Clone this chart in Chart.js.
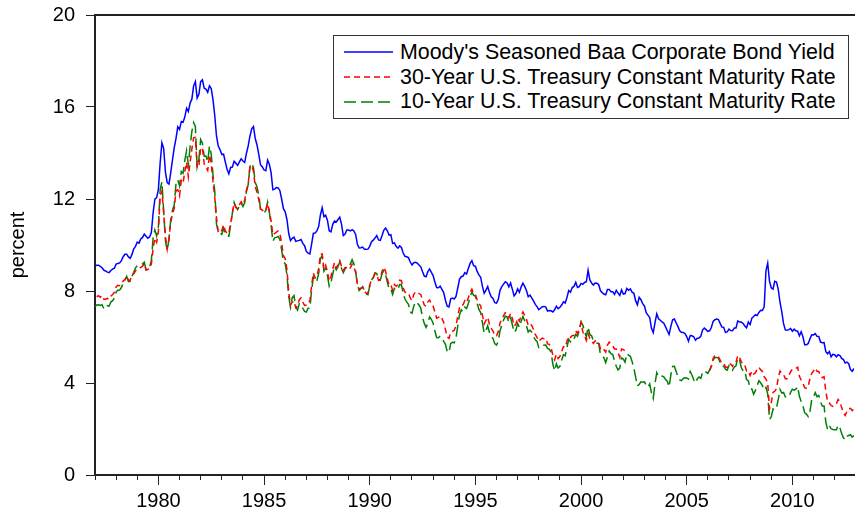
<!DOCTYPE html>
<html>
<head>
<meta charset="utf-8">
<script src="https://cdn.jsdelivr.net/npm/chart.js@4.4.0/dist/chart.umd.min.js"></script>
<style>
    body { margin: 0; background: #fff; }
    #wrap { position: relative; width: 855px; height: 512px; }
    #legend {
        position: absolute; left: 333px; top: 35px; width: 514px;
        border: 1px solid #333; background: #fff; padding: 4px 0;
        font-family: "Liberation Sans", Arial, sans-serif; font-size: 21.4px; color: #000;
    }
    .row { height: 24.7px; display: flex; align-items: center; white-space: nowrap; }
    .row svg { margin-left: 10px; margin-right: 7px; flex: none; }
</style>
</head>
<body>
<div id="wrap">
    <canvas id="mainChart" width="855" height="512"></canvas>
    <div id="legend"></div>
</div>
<script>
// Monthly data, Jan 1977 .. Dec 2012 (percent)
const N = null;
const startYear = 1977;

const baaYield = [
    9.08, 9.12, 9.12, 9.07, 9.01, 8.91, 8.87, 8.82, 8.80, 8.89, 8.95, 8.99,
    9.17, 9.20, 9.22, 9.32, 9.49, 9.60, 9.60, 9.48, 9.42, 9.59, 9.83, 9.94,
    10.13, 10.08, 10.26, 10.33, 10.47, 10.38, 10.29, 10.35, 10.54, 11.40, 11.99, 12.06,
    12.42, 13.57, 14.45, 14.19, 13.17, 12.71, 12.65, 13.15, 13.70, 14.23, 14.64, 15.14,
    15.03, 15.37, 15.34, 15.56, 15.95, 15.80, 16.17, 16.34, 16.92, 17.11, 16.39, 16.55,
    17.10, 17.18, 16.82, 16.78, 16.64, 16.92, 16.80, 16.32, 15.63, 14.73, 14.30, 14.14,
    13.94, 13.95, 13.61, 13.29, 13.09, 13.37, 13.39, 13.64, 13.55, 13.46, 13.61, 13.75,
    13.65, 13.59, 13.99, 14.31, 14.74, 15.05, 15.15, 14.63, 14.35, 13.94, 13.48, 13.40,
    13.26, 13.23, 13.69, 13.51, 13.15, 12.40, 12.43, 12.50, 12.48, 12.36, 11.99, 11.58,
    11.44, 11.11, 10.50, 10.19, 10.29, 10.34, 10.16, 10.18, 10.20, 10.24, 10.07, 9.97,
    9.72, 9.65, 9.61, 10.04, 10.51, 10.52, 10.61, 10.80, 11.31, 11.62, 11.23, 11.29,
    11.07, 10.62, 10.57, 10.90, 11.04, 11.00, 11.11, 11.21, 10.90, 10.41, 10.48, 10.65,
    10.65, 10.61, 10.67, 10.61, 10.46, 10.03, 9.87, 9.88, 9.91, 9.81, 9.81, 9.82,
    9.94, 10.14, 10.21, 10.30, 10.41, 10.22, 10.20, 10.41, 10.64, 10.74, 10.62, 10.43,
    10.45, 10.07, 10.09, 9.94, 9.86, 9.96, 9.89, 9.65, 9.51, 9.49, 9.45, 9.26,
    9.13, 9.23, 9.25, 9.21, 9.13, 9.05, 8.84, 8.65, 8.62, 8.84, 8.96, 8.81,
    8.67, 8.39, 8.15, 8.14, 8.21, 8.07, 7.93, 7.60, 7.34, 7.31, 7.66, 7.69,
    7.65, 7.76, 8.13, 8.52, 8.62, 8.65, 8.80, 8.74, 8.98, 9.20, 9.32, 9.10,
    9.08, 8.85, 8.70, 8.60, 8.20, 7.90, 8.04, 8.19, 7.93, 7.75, 7.68, 7.49,
    7.47, 7.63, 8.03, 8.19, 8.30, 8.40, 8.35, 8.18, 8.35, 8.07, 7.79, 7.89,
    8.09, 7.94, 8.18, 8.34, 8.20, 8.02, 7.75, 7.82, 7.70, 7.57, 7.42, 7.32,
    7.19, 7.25, 7.32, 7.33, 7.30, 7.13, 7.15, 7.14, 7.09, 7.18, 7.34, 7.23,
    7.29, 7.39, 7.53, 7.48, 7.72, 8.02, 7.95, 8.15, 8.20, 8.38, 8.15, 8.19,
    8.33, 8.29, 8.37, 8.40, 8.90, 8.48, 8.35, 8.26, 8.35, 8.34, 8.28, 8.02,
    7.93, 7.87, 7.84, 8.07, 8.07, 7.97, 7.97, 7.85, 8.03, 7.91, 7.81, 8.05,
    7.87, 7.89, 8.11, 8.03, 8.09, 7.95, 7.90, 7.58, 7.40, 7.73, 7.62, 7.45,
    7.35, 7.06, 6.95, 6.85, 6.38, 6.19, 6.62, 7.01, 6.79, 6.73, 6.66, 6.60,
    6.44, 6.27, 6.11, 6.46, 6.75, 6.78, 6.62, 6.46, 6.27, 6.21, 6.20, 6.15,
    6.02, 5.82, 6.06, 6.05, 6.01, 5.86, 5.95, 5.96, 6.03, 6.30, 6.39, 6.32,
    6.24, 6.27, 6.41, 6.68, 6.75, 6.78, 6.76, 6.59, 6.43, 6.42, 6.20, 6.22,
    6.34, 6.28, 6.27, 6.39, 6.39, 6.70, 6.65, 6.65, 6.59, 6.48, 6.40, 6.65,
    6.54, 6.82, 6.89, 6.97, 6.93, 7.07, 7.16, 7.15, 7.31, 8.88, 9.21, 8.43,
    8.14, 8.08, 8.42, 8.39, 8.06, 7.50, 7.09, 6.58, 6.31, 6.29, 6.32, 6.37,
    6.25, 6.34, 6.27, 6.25, 6.05, 6.23, 6.01, 5.66, 5.66, 5.72, 5.92, 6.10,
    6.09, 6.15, 6.03, 6.02, 5.78, 5.75, 5.76, 5.36, 5.27, 5.37, 5.14, 5.25,
    5.23, 5.14, 5.23, 5.19, 5.07, 5.02, 4.87, 4.91, 4.84, 4.58, 4.51, 4.63
];

const treasury30 = [
    N, 7.75, 7.80, 7.73, 7.80, 7.64, 7.64, 7.68, 7.64, 7.77, 7.85, 7.94,
    8.18, 8.25, 8.23, 8.34, 8.43, 8.50, 8.65, 8.47, 8.47, 8.69, 8.75, 8.88,
    8.94, 8.96, 9.03, 9.08, 9.19, 8.92, 8.93, 8.98, 9.17, 9.85, 10.30, 10.12,
    10.60, 12.13, 12.34, 11.40, 10.36, 9.81, 10.24, 11.00, 11.34, 11.59, 12.37, 12.40,
    12.14, 12.80, 12.69, 13.20, 13.60, 12.96, 13.59, 14.17, 14.67, 14.68, 13.35, 13.45,
    14.22, 14.22, 13.53, 13.37, 13.24, 13.92, 13.55, 12.77, 12.07, 11.17, 10.54, 10.54,
    10.63, 10.88, 10.63, 10.48, 10.53, 10.93, 11.40, 11.82, 11.63, 11.58, 11.75, 11.88,
    11.75, 11.95, 12.38, 12.65, 13.43, 13.44, 13.21, 12.54, 12.29, 11.98, 11.56, 11.52,
    11.45, 11.47, 11.81, 11.47, 11.05, 10.44, 10.50, 10.56, 10.61, 10.50, 10.06, 9.54,
    9.40, 8.93, 7.96, 7.39, 7.52, 7.57, 7.27, 7.33, 7.62, 7.70, 7.52, 7.37,
    7.39, 7.54, 7.55, 8.25, 8.78, 8.57, 8.64, 8.97, 9.59, 9.61, 8.95, 9.12,
    8.83, 8.43, 8.63, 8.95, 9.23, 9.00, 9.14, 9.32, 9.06, 8.89, 9.02, 9.01,
    8.93, 9.01, 9.17, 9.03, 8.83, 8.27, 8.08, 8.12, 8.15, 8.00, 7.90, 7.90,
    8.26, 8.50, 8.56, 8.76, 8.73, 8.46, 8.50, 8.86, 9.03, 8.86, 8.54, 8.24,
    8.27, 8.03, 8.29, 8.21, 8.27, 8.47, 8.45, 8.14, 7.95, 7.93, 7.92, 7.70,
    7.58, 7.85, 7.97, 7.96, 7.89, 7.84, 7.60, 7.39, 7.34, 7.53, 7.61, 7.44,
    7.34, 7.09, 6.82, 6.85, 6.92, 6.81, 6.63, 6.32, 6.00, 5.94, 6.21, 6.25,
    6.29, 6.49, 6.91, 7.27, 7.41, 7.40, 7.58, 7.49, 7.71, 7.94, 8.08, 7.87,
    7.85, 7.61, 7.45, 7.36, 6.95, 6.57, 6.72, 6.86, 6.55, 6.37, 6.26, 6.06,
    6.05, 6.24, 6.60, 6.79, 6.93, 7.06, 7.03, 6.84, 7.03, 6.81, 6.48, 6.55,
    6.83, 6.69, 6.93, 7.09, 6.94, 6.77, 6.51, 6.58, 6.50, 6.33, 6.11, 5.99,
    5.81, 5.89, 5.95, 5.92, 5.93, 5.70, 5.68, 5.54, 5.20, 5.01, 5.25, 5.06,
    5.16, 5.37, 5.58, 5.55, 5.81, 6.04, 5.98, 6.07, 6.07, 6.26, 6.15, 6.35,
    6.63, 6.23, 6.05, 5.85, 6.15, 5.93, 5.85, 5.72, 5.83, 5.80, 5.78, 5.49,
    5.54, 5.45, 5.34, 5.65, 5.78, 5.67, 5.61, 5.48, 5.48, 5.32, 5.12, 5.48,
    5.45, 5.40, N, N, N, N, N, N, N, N, N, N,
    N, N, N, N, N, N, N, N, N, N, N, N,
    N, N, N, N, N, N, N, N, N, N, N, N,
    N, N, N, N, N, N, N, N, N, N, N, N,
    N, 4.54, 4.73, 5.06, 5.20, 5.15, 5.13, 5.00, 4.85, 4.85, 4.69, 4.68,
    4.85, 4.82, 4.72, 4.87, 4.90, 5.20, 5.11, 4.93, 4.79, 4.77, 4.52, 4.53,
    4.33, 4.52, 4.39, 4.44, 4.60, 4.69, 4.57, 4.50, 4.27, 4.17, 4.00, 2.87,
    3.13, 3.59, 3.64, 3.76, 4.23, 4.52, 4.41, 4.37, 4.19, 4.19, 4.31, 4.49,
    4.60, 4.62, 4.64, 4.69, 4.29, 4.13, 3.99, 3.80, 3.77, 3.87, 4.19, 4.42,
    4.52, 4.65, 4.51, 4.50, 4.29, 4.23, 4.27, 3.65, 3.18, 3.13, 3.02, 2.98,
    3.03, 3.11, 3.28, 3.18, 2.93, 2.70, 2.59, 2.77, 2.88, 2.90, 2.80, 2.88
];

const treasury10 = [
    7.32, 7.39, 7.40, 7.37, 7.40, 7.24, 7.22, 7.36, 7.34, 7.52, 7.58, 7.69,
    7.96, 8.03, 8.04, 8.15, 8.35, 8.46, 8.64, 8.41, 8.42, 8.64, 8.81, 9.01,
    9.10, 9.10, 9.12, 9.18, 9.25, 8.91, 8.95, 9.03, 9.33, 10.30, 10.65, 10.39,
    10.80, 12.41, 12.75, 11.47, 10.18, 9.78, 10.25, 11.10, 11.51, 11.75, 12.68, 12.84,
    12.57, 13.19, 13.12, 13.68, 14.10, 13.47, 14.28, 14.94, 15.32, 15.15, 13.39, 13.72,
    14.59, 14.43, 13.86, 13.87, 13.62, 14.30, 13.95, 13.06, 12.34, 10.91, 10.55, 10.54,
    10.46, 10.72, 10.51, 10.40, 10.38, 10.85, 11.38, 11.85, 11.65, 11.54, 11.69, 11.83,
    11.67, 11.84, 12.32, 12.63, 13.41, 13.56, 13.36, 12.72, 12.52, 12.16, 11.57, 11.50,
    11.38, 11.51, 11.86, 11.43, 10.85, 10.16, 10.31, 10.33, 10.37, 10.24, 9.78, 9.26,
    9.19, 8.70, 7.78, 7.30, 7.71, 7.80, 7.30, 7.17, 7.45, 7.43, 7.25, 7.11,
    7.08, 7.25, 7.25, 8.02, 8.61, 8.40, 8.45, 8.76, 9.42, 9.52, 8.86, 8.99,
    8.67, 8.21, 8.37, 8.72, 9.09, 8.92, 9.06, 9.26, 8.98, 8.80, 8.96, 9.11,
    9.09, 9.17, 9.36, 9.18, 8.86, 8.28, 8.02, 8.11, 8.19, 8.01, 7.87, 7.84,
    8.21, 8.47, 8.59, 8.79, 8.76, 8.48, 8.47, 8.75, 8.89, 8.72, 8.39, 8.08,
    8.09, 7.85, 8.11, 8.04, 8.07, 8.28, 8.27, 7.90, 7.65, 7.53, 7.42, 7.09,
    7.03, 7.34, 7.54, 7.48, 7.39, 7.26, 6.84, 6.59, 6.42, 6.59, 6.87, 6.77,
    6.60, 6.26, 5.98, 5.97, 6.04, 5.96, 5.81, 5.68, 5.36, 5.33, 5.72, 5.77,
    5.75, 5.97, 6.48, 6.97, 7.18, 7.10, 7.30, 7.24, 7.46, 7.74, 7.96, 7.81,
    7.78, 7.47, 7.20, 7.06, 6.63, 6.17, 6.28, 6.49, 6.20, 6.04, 5.93, 5.71,
    5.65, 5.81, 6.27, 6.51, 6.74, 6.91, 6.87, 6.64, 6.83, 6.53, 6.20, 6.30,
    6.58, 6.42, 6.69, 6.89, 6.71, 6.49, 6.22, 6.30, 6.21, 6.03, 5.88, 5.81,
    5.54, 5.57, 5.65, 5.64, 5.65, 5.50, 5.46, 5.34, 4.81, 4.53, 4.83, 4.65,
    4.72, 5.00, 5.23, 5.18, 5.54, 5.90, 5.79, 5.94, 5.92, 6.11, 6.03, 6.28,
    6.66, 6.52, 6.26, 5.99, 6.44, 6.10, 6.05, 5.83, 5.80, 5.74, 5.72, 5.24,
    5.16, 5.10, 4.89, 5.14, 5.39, 5.28, 5.24, 4.97, 4.73, 4.57, 4.65, 5.09,
    5.04, 4.91, 5.28, 5.21, 5.16, 4.93, 4.65, 4.26, 3.87, 3.94, 4.05, 4.03,
    4.05, 3.90, 3.81, 3.96, 3.57, 3.33, 3.98, 4.45, 4.27, 4.29, 4.30, 4.27,
    4.15, 4.08, 3.83, 4.35, 4.72, 4.73, 4.50, 4.28, 4.13, 4.10, 4.19, 4.23,
    4.22, 4.17, 4.50, 4.34, 4.14, 4.00, 4.18, 4.26, 4.20, 4.46, 4.54, 4.47,
    4.42, 4.57, 4.72, 4.99, 5.11, 5.11, 5.09, 4.88, 4.72, 4.73, 4.60, 4.56,
    4.76, 4.72, 4.56, 4.69, 4.75, 5.10, 5.00, 4.67, 4.52, 4.53, 4.15, 4.10,
    3.74, 3.74, 3.51, 3.68, 3.88, 4.10, 4.01, 3.89, 3.69, 3.81, 3.53, 2.42,
    2.52, 2.87, 2.82, 2.93, 3.29, 3.72, 3.56, 3.59, 3.40, 3.39, 3.40, 3.59,
    3.73, 3.69, 3.73, 3.85, 3.42, 3.20, 3.01, 2.70, 2.65, 2.54, 2.76, 3.29,
    3.39, 3.58, 3.41, 3.46, 3.17, 3.00, 3.00, 2.30, 1.98, 2.15, 2.01, 1.98,
    1.97, 1.97, 2.17, 2.05, 1.80, 1.62, 1.53, 1.68, 1.72, 1.75, 1.65, 1.72
];

const seriesLabels = [
    "Moody's Seasoned Baa Corporate Bond Yield",
    '30-Year U.S. Treasury Constant Maturity Rate',
    '10-Year U.S. Treasury Constant Maturity Rate'
];

// Axis ticks
const yTicks = [0, 4, 8, 12, 16, 20];
const xLabelYears = [1980, 1985, 1990, 1995, 2000, 2005, 2010];
const xMinorYears = [];
for (let y = 1977; y <= 2012; y++) xMinorYears.push(y);

const FONT = '"Liberation Sans", Arial, sans-serif';
const AXIS_COLOR = '#222';

// month index -> decimal year
function toPoints(values) {
    return values.map((v, i) => ({ x: startYear + i / 12, y: v }));
}

const xMin = startYear;
const xMax = startYear + (baaYield.length - 1) / 12;

function createChart() {
    const ctx = document.getElementById('mainChart').getContext('2d');

    const datasets = [
        {
            label: seriesLabels[0],
            data: toPoints(baaYield),
            borderColor: '#0000ff',
            borderWidth: 1.5,
            pointRadius: 0,
            tension: 0
        },
        {
            label: seriesLabels[1],
            data: toPoints(treasury30),
            borderColor: '#ff0000',
            borderWidth: 1.5,
            borderDash: [6, 4],
            pointRadius: 0,
            spanGaps: false,
            tension: 0
        },
        {
            label: seriesLabels[2],
            data: toPoints(treasury10),
            borderColor: '#008000',
            borderWidth: 1.5,
            borderDash: [12, 5],
            pointRadius: 0,
            tension: 0
        }
    ];

    return new Chart(ctx, {
        type: 'line',
        data: { datasets },
        options: {
            responsive: false,
            animation: false,
            devicePixelRatio: 1,
            layout: { padding: { top: 15, right: 1, left: 0, bottom: 0 } },
            plugins: {
                legend: { display: false },
                tooltip: { enabled: false }
            },
            scales: {
                x: {
                    type: 'linear',
                    position: 'bottom',
                    weight: 1,
                    min: xMin,
                    max: xMax,
                    afterBuildTicks: axis => { axis.ticks = xLabelYears.map(v => ({ value: v })); },
                    afterFit: axis => { axis.height = 37; },
                    grid: { drawOnChartArea: false, drawTicks: true, tickLength: 10, tickColor: AXIS_COLOR, tickWidth: 1 },
                    border: { display: true, color: AXIS_COLOR, width: 2 },
                    ticks: {
                        padding: 4,
                        color: '#000',
                        font: { family: FONT, size: 20 },
                        maxRotation: 0,
                        callback: v => String(v)
                    }
                },
                xMinor: {
                    type: 'linear',
                    position: 'bottom',
                    weight: 0,
                    min: xMin,
                    max: xMax,
                    afterBuildTicks: axis => { axis.ticks = xMinorYears.map(v => ({ value: v })); },
                    afterFit: axis => { axis.height = 0; },
                    grid: { drawOnChartArea: false, drawTicks: true, tickLength: 5, tickColor: AXIS_COLOR, tickWidth: 1 },
                    border: { display: false },
                    ticks: { display: false }
                },
                xTop: {
                    type: 'linear',
                    position: 'top',
                    min: xMin,
                    max: xMax,
                    afterFit: axis => { axis.height = 0; },
                    grid: { display: false },
                    border: { display: true, color: AXIS_COLOR, width: 2 },
                    ticks: { display: false }
                },
                y: {
                    type: 'linear',
                    position: 'left',
                    min: 0,
                    max: 20,
                    afterBuildTicks: axis => { axis.ticks = yTicks.map(v => ({ value: v })); },
                    afterFit: axis => {
                        axis.width = 95;
                        // labels may overhang the plot area; don't let them push it down
                        axis.paddingTop = 0;
                        axis.paddingBottom = 0;
                    },
                    grid: { drawOnChartArea: false, drawTicks: true, tickLength: 9, tickColor: AXIS_COLOR, tickWidth: 1 },
                    border: { display: true, color: AXIS_COLOR, width: 2 },
                    ticks: {
                        padding: 11,
                        color: '#000',
                        font: { family: FONT, size: 20 }
                    },
                    title: {
                        display: true,
                        text: 'percent',
                        color: '#000',
                        font: { family: FONT, size: 20 },
                        padding: { top: 6, bottom: 0 }
                    }
                }
            }
        }
    });
}

// Legend drawn as HTML from the chart's datasets
function buildLegend(chart) {
    const box = document.getElementById('legend');
    chart.data.datasets.forEach(ds => {
        const row = document.createElement('div');
        row.className = 'row';
        const dash = ds.borderDash ? ds.borderDash.join(',') : 'none';
        row.innerHTML =
            '<svg width="49" height="6"><line x1="0" y1="3" x2="49" y2="3" stroke="' + ds.borderColor +
            '" stroke-width="1.5" stroke-dasharray="' + dash + '"/></svg>';
        const span = document.createElement('span');
        span.textContent = ds.label;
        row.appendChild(span);
        box.appendChild(row);
    });
}

const chart = createChart();
buildLegend(chart);
</script>
</body>
</html>
